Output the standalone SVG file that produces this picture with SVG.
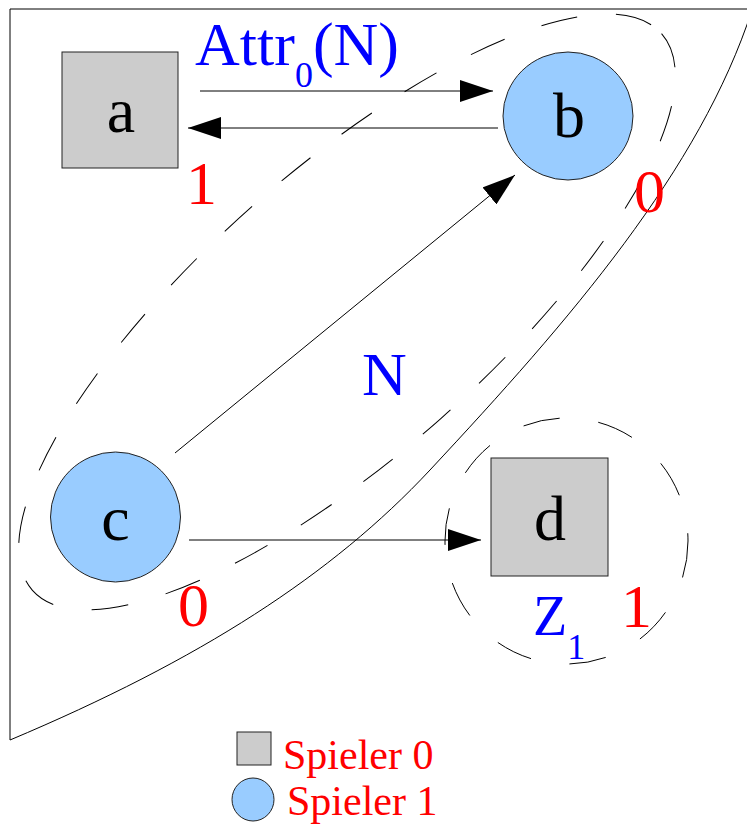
<svg xmlns="http://www.w3.org/2000/svg" width="747" height="831" viewBox="0 0 747 831">
<style>
.ln{fill:none;stroke:#000;stroke-width:1}
.dash{fill:none;stroke:#000;stroke-width:1;stroke-dasharray:37 39}
.p0{fill:#cccccc;stroke:#222;stroke-width:1}
.p1{fill:#99ccff;stroke:#222;stroke-width:1}
.lbl{font-family:"Liberation Serif",serif;font-size:64px;fill:#000;text-anchor:middle}
.blue{font-family:"Liberation Serif",serif;fill:#0000ff}
.red{font-family:"Liberation Serif",serif;fill:#ff0000}
</style>
<defs>
<marker id="ah" markerUnits="userSpaceOnUse" markerWidth="33" markerHeight="22" refX="33" refY="11" orient="auto">
<path d="M0,0 L33,11 L0,22 z" fill="#000"/>
</marker>
</defs>
<rect width="747" height="831" fill="#fff"/>
<g id="frame">
<path class="ln" d="M10,9 H747 M10,9 V740"/>
<path class="ln" d="M752,10 C700,170 570,320 430,470 C332,575 200,660 10,740"/>
</g>
<g id="regions">
<ellipse class="dash" cx="347" cy="312" rx="420" ry="142" transform="rotate(-41.5 347 312)"/>
<ellipse class="dash" cx="566.5" cy="541" rx="121.5" ry="123"/>
</g>
<g id="connectors">
<line class="ln" x1="200" y1="91" x2="493" y2="91" marker-end="url(#ah)"/>
<line class="ln" x1="498" y1="128" x2="188" y2="128" marker-end="url(#ah)"/>
<line class="ln" x1="175" y1="453" x2="515" y2="175" marker-end="url(#ah)"/>
<line class="ln" x1="189" y1="540" x2="481" y2="540" marker-end="url(#ah)"/>
</g>
<g id="node-a">
<rect class="p0" x="62" y="52" width="116" height="116"/>
<text class="lbl" x="121" y="132">a</text>
</g>
<g id="node-b">
<ellipse class="p1" cx="568" cy="116" rx="65" ry="64"/>
<text class="lbl" x="569" y="137">b</text>
</g>
<g id="node-c">
<ellipse class="p1" cx="115.5" cy="517" rx="65" ry="65"/>
<text class="lbl" x="115.5" y="540">c</text>
</g>
<g id="node-d">
<rect class="p0" x="491" y="458" width="117" height="118"/>
<text class="lbl" x="550" y="540">d</text>
</g>
<g id="labels">
<text class="blue" x="195" y="65" font-size="62">Attr<tspan font-size="36" y="87">0</tspan><tspan y="65">(N)</tspan></text>
<text class="blue" x="362" y="395" font-size="62">N</text>
<text class="blue" x="533" y="635" font-size="56">Z<tspan font-size="36" y="659">1</tspan></text>
<text class="red" x="186" y="204" font-size="62">1</text>
<text class="red" x="634" y="212" font-size="62">0</text>
<text class="red" x="178" y="626" font-size="62">0</text>
<text class="red" x="621" y="627" font-size="62">1</text>
</g>
<g id="legend">
<rect class="p0" x="237" y="732" width="34" height="33"/>
<ellipse class="p1" cx="253" cy="799.5" rx="21" ry="21.5"/>
<text class="red" x="283" y="769" font-size="42">Spieler 0</text>
<text class="red" x="287" y="815" font-size="42">Spieler 1</text>
</g>
</svg>
